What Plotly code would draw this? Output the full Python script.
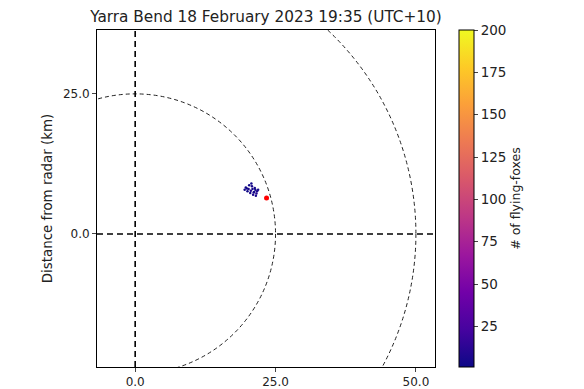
import plotly.graph_objects as go

# data
bat_x = [19.5, 19.9, 20.3, 20.6, 20.9, 21.1, 21.4, 21.6, 20.0, 20.8, 21.3, 21.7, 20.5, 21.0, 19.7, 21.5, 20.2, 21.2, 20.7, 21.9]
bat_y = [7.9, 8.1, 8.7, 7.7, 8.0, 7.4, 7.9, 7.2, 7.6, 8.5, 8.2, 7.6, 7.3, 7.0, 8.3, 6.8, 8.0, 7.5, 9.0, 7.9]
bat_n = [3, 5, 2, 8, 4, 6, 3, 10, 2, 5, 4, 7, 3, 6, 2, 4, 5, 3, 2, 4]
roost_x = [23.4]
roost_y = [6.4]
radii = [25, 50]
x_ticks = [0, 25, 50]
y_ticks = [0, 25]
cbar_ticks = [25, 50, 75, 100, 125, 150, 175, 200]

fig = go.Figure()

fig.add_trace(go.Scatter(
    x=bat_x, y=bat_y, mode="markers",
    marker=dict(size=2.5, color=bat_n, colorscale="Plasma", cmin=1, cmax=200,
                showscale=True,
                colorbar=dict(x=1.071, xanchor="left", y=0.5, yanchor="middle",
                              xpad=0, ypad=0,
                              len=1.0, lenmode="fraction", thickness=15,
                              outlinewidth=1, outlinecolor="black",
                              tickvals=cbar_ticks, ticks="outside", ticklen=4,
                              tickfont=dict(size=13.5, color="#222"),
                              title=dict(text="# of flying-foxes", side="right",
                                         font=dict(size=12.5, color="#222")))),
    showlegend=False, hoverinfo="skip"))

fig.add_trace(go.Scatter(x=roost_x, y=roost_y, mode="markers",
                         marker=dict(size=5, color="red"), showlegend=False))

for r in radii:
    fig.add_shape(type="circle", xref="x", yref="y", x0=-r, x1=r, y0=-r, y1=r,
                  line=dict(color="#222", width=1, dash="4px,3px"), layer="below")

fig.add_shape(type="line", xref="x", yref="paper", x0=0, x1=0, y0=0, y1=1,
              line=dict(color="black", width=1.6, dash="6px,4px"))
fig.add_shape(type="line", xref="paper", yref="y", x0=0, x1=1, y0=0, y1=0,
              line=dict(color="black", width=1.6, dash="6px,4px"))

fig.update_layout(
    width=584, height=389,
    margin=dict(l=97, r=149, t=30, b=22, autoexpand=False),
    plot_bgcolor="white", paper_bgcolor="white",
    font=dict(family="DejaVu Sans", color="#222"),
    title=dict(text="Yarra Bend 18 February 2023 19:35 (UTC+10)",
               x=(97 + 338 / 2) / 584, xanchor="center", y=1 - 17 / 389, yanchor="middle",
               font=dict(size=15.3, color="#222")),
    xaxis=dict(range=[-6.8, 53.4], tickvals=x_ticks, ticktext=["%.1f" % v for v in x_ticks],
               ticks="outside", ticklen=4, showgrid=False, zeroline=False,
               showline=True, mirror=True, linecolor="black", linewidth=1,
               tickfont=dict(size=12)),
    yaxis=dict(range=[-23.75, 36.4], tickvals=y_ticks, ticktext=["%.1f" % v for v in y_ticks],
               ticks="outside", ticklen=4, showgrid=False, zeroline=False,
               showline=True, mirror=True, linecolor="black", linewidth=1,
               tickfont=dict(size=12),
               title=dict(text="Distance from radar (km)", font=dict(size=13.4), standoff=7)),
)

fig.write_html("out.html", config={"displayModeBar": False},
               post_script="document.body.style.margin='0';")
